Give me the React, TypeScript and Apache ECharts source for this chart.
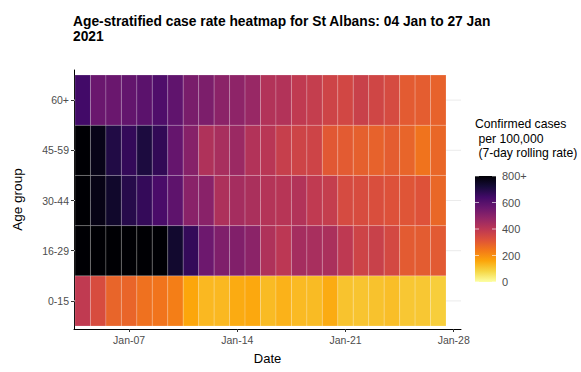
import React, { useEffect, useRef } from "react";
import * as echarts from "echarts";

// Days of January 2021 (04 Jan .. 27 Jan)
const days = [4, 5, 6, 7, 8, 9, 10, 11, 12, 13, 14, 15, 16, 17, 18, 19, 20, 21, 22, 23, 24, 25, 26, 27];
const ageGroups = ["0-15", "16-29", "30-44", "45-59", "60+"];

const rate0to15 = [390, 335, 280, 278, 255, 248, 230, 158, 130, 130, 150, 155, 125, 140, 127, 125, 150, 112, 110, 113, 120, 105, 105, 95];
const rate16to29 = [900, 880, 870, 860, 880, 830, 735, 665, 555, 520, 515, 495, 425, 400, 445, 440, 435, 395, 360, 370, 345, 300, 297, 302];
const rate30to44 = [830, 775, 740, 690, 665, 625, 585, 500, 500, 430, 445, 435, 415, 410, 420, 390, 380, 340, 335, 330, 320, 312, 318, 275];
const rate45to59 = [820, 770, 700, 665, 710, 670, 570, 505, 425, 440, 465, 420, 405, 375, 360, 360, 305, 300, 290, 285, 295, 280, 250, 275];
const rate60plus = [640, 560, 560, 575, 590, 615, 580, 530, 525, 495, 490, 470, 420, 420, 390, 380, 360, 350, 370, 355, 340, 300, 295, 285];
const ratesByAge = [rate0to15, rate16to29, rate30to44, rate45to59, rate60plus];

const xTickDays = [7, 14, 21, 28];
const legendTicks = [0, 200, 400, 600, 800];
const legendTickLabels = ["0", "200", "400", "600", "800+"];

// inferno palette, dark -> light
const inferno = ["#000004", "#160b39", "#420a68", "#6a176e", "#932667", "#bc3754", "#dd513a", "#f37819", "#fca50a", "#f6d746", "#fcffa4"];

const FONT = "'Liberation Sans', Arial, Helvetica, sans-serif";

export default function App() {
  const ref = useRef<HTMLDivElement>(null);
  useEffect(() => {
    if (!ref.current) return;
    const chart = echarts.init(ref.current, undefined, { renderer: "svg" });

    const cells: number[][] = [];
    ratesByAge.forEach((arr, a) => arr.forEach((v, i) => cells.push([days[i], a, v])));
    const gridRows = ageGroups.map((_, a) => [days[0], a]);

    const xMin = 3.435;
    const xMax = 28.47;

    // legend colorbar geometry
    const barX = 475, barW = 21, barTop = 176, barBottom = 282;
    const vy = (v: number) => barBottom - (v / 800) * (barBottom - barTop);

    const graphics: any[] = [
      {
        type: "text",
        left: 475,
        top: 117,
        style: {
          text: "Confirmed cases\n per 100,000\n (7-day rolling rate)",
          font: `12.2px ${FONT}`,
          fill: "#000",
          lineHeight: 14.5,
        },
      },
      {
        type: "rect",
        shape: { x: barX, y: barTop, width: barW, height: barBottom - barTop },
        style: {
          fill: new echarts.graphic.LinearGradient(0, 0, 0, 1,
            inferno.map((c, i) => ({ offset: i / (inferno.length - 1), color: c }))),
        },
      },
    ];
    legendTicks.forEach((v, i) => {
      const y = vy(v);
      graphics.push({
        type: "line",
        shape: { x1: barX, y1: y, x2: barX + 4, y2: y },
        style: { stroke: "rgba(255,255,255,0.8)", lineWidth: 0.8 },
      });
      graphics.push({
        type: "line",
        shape: { x1: barX + barW - 4, y1: y, x2: barX + barW, y2: y },
        style: { stroke: "rgba(255,255,255,0.8)", lineWidth: 0.8 },
      });
      graphics.push({
        type: "text",
        x: 502,
        y: y,
        style: {
          text: legendTickLabels[i],
          font: `11px ${FONT}`,
          fill: "#4d4d4d",
          verticalAlign: "middle",
          align: "left",
        },
      });
    });

    chart.setOption({
      animation: false,
      backgroundColor: "#ffffff",
      title: {
        text: "Age-stratified case rate heatmap for St Albans: 04 Jan to 27 Jan\n2021",
        left: 73,
        top: 14,
        padding: 0,
        textStyle: { fontFamily: FONT, fontSize: 13.8, fontWeight: "bold", color: "#000", lineHeight: 15 },
      },
      grid: { left: 74, top: 70, right: 581 - 461, bottom: 372 - 329, containLabel: false, outerBoundsMode: "none" },
      xAxis: {
        type: "value",
        min: xMin,
        max: xMax,
        name: "Date",
        nameLocation: "middle",
        nameGap: 23,
        nameTextStyle: { fontFamily: FONT, fontSize: 13, color: "#000" },
        axisLine: { show: true, onZero: false, lineStyle: { color: "#000", width: 1 } },
        axisTick: { show: true, length: 3, customValues: xTickDays, lineStyle: { color: "#333" } },
        axisLabel: {
          customValues: xTickDays,
          formatter: (v: number) => "Jan-" + String(Math.round(v)).padStart(2, "0"),
          fontFamily: FONT,
          fontSize: 10.5,
          color: "#4d4d4d",
          margin: 5,
        },
        splitLine: { show: false },
      },
      yAxis: {
        type: "value",
        min: -0.56,
        max: 4.6,
        name: "Age group",
        nameLocation: "middle",
        nameRotate: 90,
        nameGap: 50,
        nameTextStyle: { fontFamily: FONT, fontSize: 13.5, color: "#000" },
        axisLine: { show: true, onZero: false, lineStyle: { color: "#000", width: 1 } },
        axisTick: { show: true, length: 3, customValues: [0, 1, 2, 3, 4], lineStyle: { color: "#333" } },
        axisLabel: {
          customValues: [0, 1, 2, 3, 4],
          formatter: (v: number) => ageGroups[Math.round(v)] ?? "",
          fontFamily: FONT,
          fontSize: 10.5,
          color: "#4d4d4d",
          margin: 5,
        },
        splitLine: { show: false },
      },
      visualMap: {
        show: false,
        type: "continuous",
        min: 0,
        max: 800,
        dimension: 2,
        seriesIndex: 1,
        inRange: { color: inferno.slice().reverse() },
        outOfRange: { color: "#000004" },
      },
      series: [
        {
          type: "custom",
          silent: true,
          data: gridRows,
          encode: { x: 0, y: 1 },
          z: 1,
          renderItem: (params: any, api: any) => {
            const r = api.value(1);
            const p0 = api.coord([xMin, r]);
            const p1 = api.coord([xMax, r]);
            return {
              type: "line",
              shape: { x1: p0[0], y1: p0[1], x2: p1[0], y2: p1[1] },
              style: { stroke: "#ebebeb", lineWidth: 1 },
            };
          },
        },
        {
          type: "custom",
          data: cells,
          encode: { x: 0, y: 1 },
          z: 2,
          renderItem: (params: any, api: any) => {
            const x = api.value(0);
            const y = api.value(1);
            const p0 = api.coord([x - 0.5, y + 0.5]);
            const p1 = api.coord([x + 0.5, y - 0.5]);
            return {
              type: "rect",
              shape: { x: p0[0], y: p0[1], width: p1[0] - p0[0], height: p1[1] - p0[1] },
              style: { fill: api.visual("color"), stroke: "rgba(255,255,255,0.3)", lineWidth: 0.6 },
            };
          },
        },
      ],
      graphic: graphics,
    });
    return () => chart.dispose();
  }, []);
  return <div ref={ref} style={{ position: "fixed", left: 0, top: 0, width: 581, height: 372 }} />;
}
